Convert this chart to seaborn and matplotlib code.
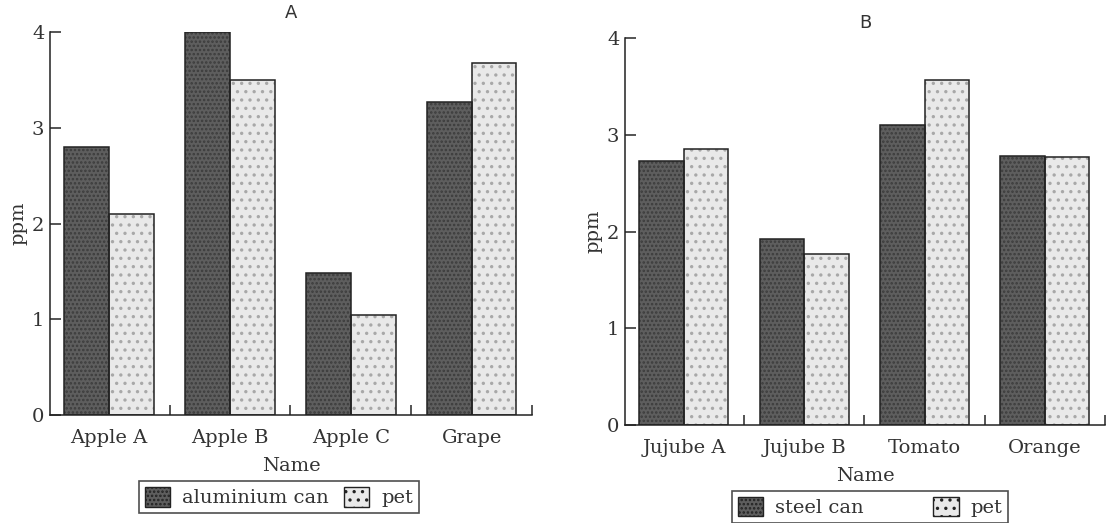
import numpy as np
import pandas as pd
import matplotlib.pyplot as plt
import seaborn as sns
from matplotlib.patches import Rectangle

# panel A
names_a = ['Apple A', 'Apple B', 'Apple C', 'Grape']
alu_can = [2.8, 4.0, 1.48, 3.27]
pet_a = [2.1, 3.5, 1.05, 3.68]

# panel B
names_b = ['Jujube A', 'Jujube B', 'Tomato', 'Orange']
steel_can = [2.73, 1.92, 3.1, 2.78]
pet_b = [2.85, 1.77, 3.57, 2.77]

sns.set_style('ticks')
plt.rcParams['font.family'] = ['DejaVu Serif', 'DejaVu Sans']
plt.rcParams['hatch.linewidth'] = 1.2

dark = '#5e5e5e'
light = '#e9e9e9'


def draw(ax, names, can, pet, can_label, title, title_pad, leg_xy, leg_w):
    df = pd.concat([
        pd.DataFrame({'Name': names, 'ppm': can, 'kind': can_label}),
        pd.DataFrame({'Name': names, 'ppm': pet, 'kind': 'pet'}),
    ], ignore_index=True)
    sns.barplot(data=df, x='Name', y='ppm', hue='kind', palette=[dark, light],
                width=0.74, ax=ax, legend=False, saturation=1)
    # textures, then crisp outlines on top
    for cont, hatch, hc in [(ax.containers[0], '....', '#3c3c3c'),
                            (ax.containers[1], '..', '#a8a8a8')]:
        for p in cont:
            p.set_hatch(hatch)
            p.set_edgecolor(hc)
            p.set_linewidth(0)
            ax.add_patch(Rectangle(p.get_xy(), p.get_width(), p.get_height(),
                                   fill=False, ec='#222222', lw=1.1, zorder=3))
    ax.set_xlim(-0.49, 3.47)
    ax.set_ylim(0, 4)
    ax.set_yticks([0, 1, 2, 3, 4])
    ax.set_xticks(np.arange(4) + 0.5, minor=True)
    ax.tick_params(axis='x', which='major', length=0, labelsize=14, pad=10,
                   labelcolor='#333333')
    ax.tick_params(axis='x', which='minor', direction='in', length=7, width=1.1)
    ax.tick_params(axis='y', labelsize=14, direction='in', length=8, width=1.1,
                   pad=4, labelcolor='#333333')
    sns.despine(ax=ax)
    for s in ['left', 'bottom']:
        ax.spines[s].set_linewidth(1.1)
        ax.spines[s].set_color('#222222')
    ax.set_xlabel('Name', fontsize=14, labelpad=7, color='#333333')
    ax.set_ylabel('ppm', fontsize=14, labelpad=3, color='#333333')
    ax.set_title(title, fontsize=13, family='DejaVu Sans', pad=title_pad,
                 color='#333333')
    leg = ax.legend(handles=[ax.containers[0][0], ax.containers[1][0]],
                    labels=[can_label, 'pet'], ncol=2, loc='center',
                    bbox_to_anchor=leg_xy, bbox_transform=fig.transFigure,
                    fontsize=14, frameon=True, fancybox=False, edgecolor='#222222',
                    handlelength=1.3, handleheight=1.2, columnspacing=leg_w,
                    borderpad=0.3, handletextpad=0.6, borderaxespad=0)
    leg.get_frame().set_linewidth(1.2)
    for t in leg.get_texts():
        t.set_color('#333333')
    for h in leg.legend_handles:
        h.set_edgecolor('#222222')
        h.set_linewidth(1)


fig = plt.figure(figsize=(11.11, 5.23), dpi=100)
ax_a = fig.add_axes([0.045, 0.2065, 0.434, 0.732])
ax_b = fig.add_axes([0.5626, 0.187, 0.432, 0.74])

draw(ax_a, names_a, alu_can, pet_a, 'aluminium can', 'A', 10, (0.251, 0.05), 0.8)
draw(ax_b, names_b, steel_can, pet_b, 'steel can', 'B', 7, (0.783, 0.031), 3.6)

fig.savefig('out.png', dpi=100)
